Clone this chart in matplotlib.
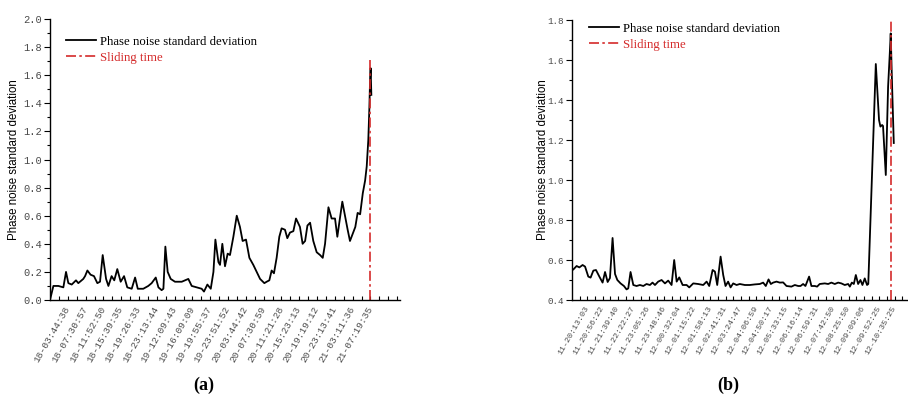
import numpy as np
import matplotlib
matplotlib.use('Agg')
import matplotlib.pyplot as plt

### Panel (a) - sample position (in tick units) and phase noise std
A_POS = [0.0, 0.19, 0.47, 0.75, 0.90, 1.03, 1.22, 1.46, 1.59, 1.87, 1.97, 2.10, 2.28, 2.47,
         2.66, 2.81, 2.96, 3.15, 3.28, 3.46, 3.61, 3.78, 3.97, 4.16, 4.34, 4.59, 4.78, 4.93,
         5.24, 5.52, 5.71, 5.94, 6.09, 6.27, 6.37, 6.48, 6.61, 6.78, 7.02, 7.40, 7.77, 7.96,
         8.24, 8.52, 8.65, 8.84, 9.03, 9.18, 9.29, 9.46, 9.55, 9.68, 9.83, 9.98, 10.11, 10.30,
         10.49, 10.67, 10.82, 11.01, 11.20, 11.42, 11.61, 11.80, 12.04, 12.17, 12.32, 12.45,
         12.58, 12.73, 12.88, 13.01, 13.20, 13.33, 13.48, 13.67, 13.82, 14.04, 14.19, 14.33,
         14.46, 14.61, 14.79, 14.98, 15.17, 15.32, 15.45, 15.64, 15.82, 16.01, 16.14, 16.25,
         16.42, 16.57, 16.72, 16.85, 17.00, 17.15, 17.28, 17.42, 17.57, 17.70, 17.79, 17.88,
         17.94, 17.98, 18.01, 18.05]
A_VAL = [0.0, 0.10, 0.10, 0.09, 0.20, 0.12, 0.11, 0.14, 0.12, 0.15, 0.17, 0.21, 0.18, 0.17,
         0.12, 0.13, 0.32, 0.15, 0.10, 0.17, 0.14, 0.22, 0.13, 0.17, 0.09, 0.08, 0.16, 0.08,
         0.08, 0.10, 0.12, 0.16, 0.09, 0.07, 0.08, 0.38, 0.20, 0.15, 0.13, 0.13, 0.15, 0.10,
         0.09, 0.08, 0.06, 0.11, 0.08, 0.20, 0.43, 0.27, 0.25, 0.40, 0.24, 0.33, 0.32, 0.45,
         0.60, 0.52, 0.42, 0.43, 0.30, 0.25, 0.20, 0.15, 0.12, 0.13, 0.14, 0.21,
         0.19, 0.30, 0.45, 0.51, 0.50, 0.44, 0.48, 0.49, 0.58, 0.52, 0.40, 0.42,
         0.53, 0.55, 0.42, 0.34, 0.32, 0.30, 0.40, 0.66, 0.58, 0.58, 0.45, 0.55,
         0.70, 0.60, 0.50, 0.42, 0.47, 0.52, 0.62, 0.61, 0.76, 0.85, 0.95, 1.14,
         1.37, 1.57, 1.65, 1.46]
A_LABELS = ['18-03:44:38', '18-07:30:57', '18-11:52:50', '18-15:39:35', '18-19:26:33',
            '18-23:13:44', '19-12:09:43', '19-16:09:09', '19-19:55:37', '19-23:51:52',
            '20-03:44:42', '20-07:30:59', '20-11:21:28', '20-15:23:13', '20-19:19:12',
            '20-23:13:41', '21-03:11:36', '21-07:19:35']
A_SLIDE = 18.0
A_SLIDE_TOP = 1.72

### Panel (b)
B_POS = [0.09, 0.30, 0.48, 0.69, 0.85, 1.06, 1.21, 1.39, 1.56, 1.78, 1.99, 2.15, 2.32, 2.47,
         2.64, 2.80, 2.95, 3.16, 3.38, 3.55, 3.66, 3.81, 3.99, 4.20, 4.42, 4.64, 4.85, 5.07,
         5.24, 5.40, 5.61, 5.83, 6.05, 6.26, 6.48, 6.65, 6.81, 6.98, 7.20, 7.46, 7.63, 7.89,
         8.21, 8.54, 8.76, 8.93, 9.15, 9.30, 9.45, 9.67, 9.84, 9.99, 10.16, 10.32, 10.49,
         10.71, 10.92, 11.25, 11.57, 11.90, 12.22, 12.44, 12.61, 12.79, 12.94, 13.09, 13.31,
         13.52, 13.74, 13.96, 14.28, 14.50, 14.72, 14.87, 15.04, 15.19, 15.43, 15.58, 15.80,
         15.95, 16.12, 16.45, 16.67, 16.88, 17.10, 17.32, 17.53, 17.75, 17.97, 18.08, 18.21,
         18.34, 18.47, 18.62, 18.77, 18.90, 19.05, 19.20, 19.28, 19.77, 19.98, 20.07, 20.18,
         20.24, 20.42, 20.57, 20.68, 20.74, 20.83, 20.94]
B_VAL = [0.553, 0.570, 0.563, 0.575, 0.567, 0.517, 0.512, 0.547, 0.550, 0.517, 0.487, 0.540,
         0.490, 0.510, 0.710, 0.530, 0.500, 0.483, 0.470, 0.453, 0.458, 0.540, 0.475, 0.470,
         0.475, 0.470, 0.480, 0.475, 0.487, 0.475, 0.492, 0.500, 0.483, 0.497, 0.475, 0.600,
         0.492, 0.513, 0.475, 0.475, 0.463, 0.483, 0.480, 0.475, 0.492, 0.470, 0.550, 0.542,
         0.475, 0.617, 0.525, 0.470, 0.492, 0.463, 0.483, 0.475, 0.480, 0.475, 0.475, 0.478,
         0.480, 0.487, 0.470, 0.503, 0.480, 0.487, 0.492, 0.487, 0.488, 0.470, 0.467, 0.475,
         0.470, 0.470, 0.480, 0.470, 0.517, 0.470, 0.470, 0.467, 0.480, 0.483, 0.480, 0.487,
         0.480, 0.487, 0.483, 0.475, 0.480, 0.467, 0.487, 0.480, 0.525, 0.480, 0.500, 0.475,
         0.508, 0.475, 0.480, 1.580, 1.300, 1.267, 1.275, 1.270, 1.025, 1.467, 1.633, 1.733,
         1.470, 1.185]
B_LABELS = ['11-20:13:03', '11-20:56:22', '11-21:39:40', '11-22:22:27', '11-23:05:26',
            '11-23:48:46', '12-00:32:04', '12-01:15:22', '12-01:58:13', '12-02:41:31',
            '12-03:24:47', '12-04:06:59', '12-04:50:17', '12-05:33:15', '12-06:16:14',
            '12-06:59:31', '12-07:42:50', '12-08:25:50', '12-09:09:06', '12-09:52:25',
            '12-10:35:25']
B_SLIDE = 20.79

RED = '#d42a2a'
TICK_GREY = '#4a4a4a'


def draw_panel(ax, pos, val, labels, slide, slide_top, ylim, xmax, tick_size, ylab_x):
    ax.plot(pos, val, color='black', lw=1.3, label='Phase noise standard deviation')
    ax.plot([slide, slide], [ylim[0], slide_top], color=RED, lw=1.2, ls=(0, (6, 2, 1.5, 2)),
            label='Sliding time')
    ax.set_xlim(0, xmax)
    ax.set_ylim(*ylim)

    ticks = np.arange(1, len(labels) + 1)
    ax.set_xticks(ticks)
    ax.set_xticks(np.arange(0.5, xmax, 0.5), minor=True)
    ax.set_xticklabels(labels, rotation=60, ha='right', va='center', rotation_mode='anchor',
                       fontfamily='Liberation Mono', fontsize=tick_size, color=TICK_GREY)
    ax.tick_params(axis='x', which='both', direction='in', length=3, width=0.8, pad=5)

    ax.set_yticks(np.arange(ylim[0], ylim[1] + 0.001, 0.2))
    ax.set_yticks(np.arange(ylim[0], ylim[1] + 0.001, 0.1), minor=True)
    ax.set_yticklabels(['%.1f' % v for v in np.arange(ylim[0], ylim[1] + 0.001, 0.2)],
                       fontfamily='Liberation Mono', fontsize=tick_size + 0.7, color=TICK_GREY)
    ax.tick_params(axis='y', which='major', direction='out', length=4, width=0.8, pad=2)
    ax.tick_params(axis='y', which='minor', direction='out', length=2, width=0.8)

    for s in ['top', 'right']:
        ax.spines[s].set_visible(False)
    for s in ['left', 'bottom']:
        ax.spines[s].set_linewidth(1.0)

    ax.set_ylabel('Phase noise standard deviation', fontfamily='Liberation Sans', fontsize=8.3)
    ax.yaxis.set_label_coords(ylab_x, 0.5)


fig = plt.figure(figsize=(9.08, 3.97), dpi=100)

axA = fig.add_axes([50 / 908, 97 / 397, 350 / 908, 281 / 397])
draw_panel(axA, A_POS, A_VAL, A_LABELS, A_SLIDE, A_SLIDE_TOP, (0.0, 2.0), 19.66, 6.8, -0.086)
axA.legend(loc='upper left', bbox_to_anchor=(0.045, 0.94), borderaxespad=0, borderpad=0,
           frameon=False, handlelength=2.4, handletextpad=0.25, labelspacing=0.3,
           prop={'family': 'Liberation Serif', 'size': 9.2}, labelcolor=['black', RED])

axB = fig.add_axes([572 / 908, 97 / 397, 335 / 908, 280 / 397])
draw_panel(axB, B_POS, B_VAL, B_LABELS, B_SLIDE, 1.8, (0.4, 1.8), 21.8, 6.0, -0.069)
axB.legend(loc='upper left', bbox_to_anchor=(0.05, 0.99), borderaxespad=0, borderpad=0,
           frameon=False, handlelength=2.4, handletextpad=0.25, labelspacing=0.3,
           prop={'family': 'Liberation Serif', 'size': 9.2}, labelcolor=['black', RED])

fig.text(204 / 908, 0.03, '(a)', ha='center', va='center', fontsize=13, fontweight='bold',
         fontfamily='Liberation Serif')
fig.text(728 / 908, 0.03, '(b)', ha='center', va='center', fontsize=13, fontweight='bold',
         fontfamily='Liberation Serif')

fig.savefig('out.png', dpi=100)
